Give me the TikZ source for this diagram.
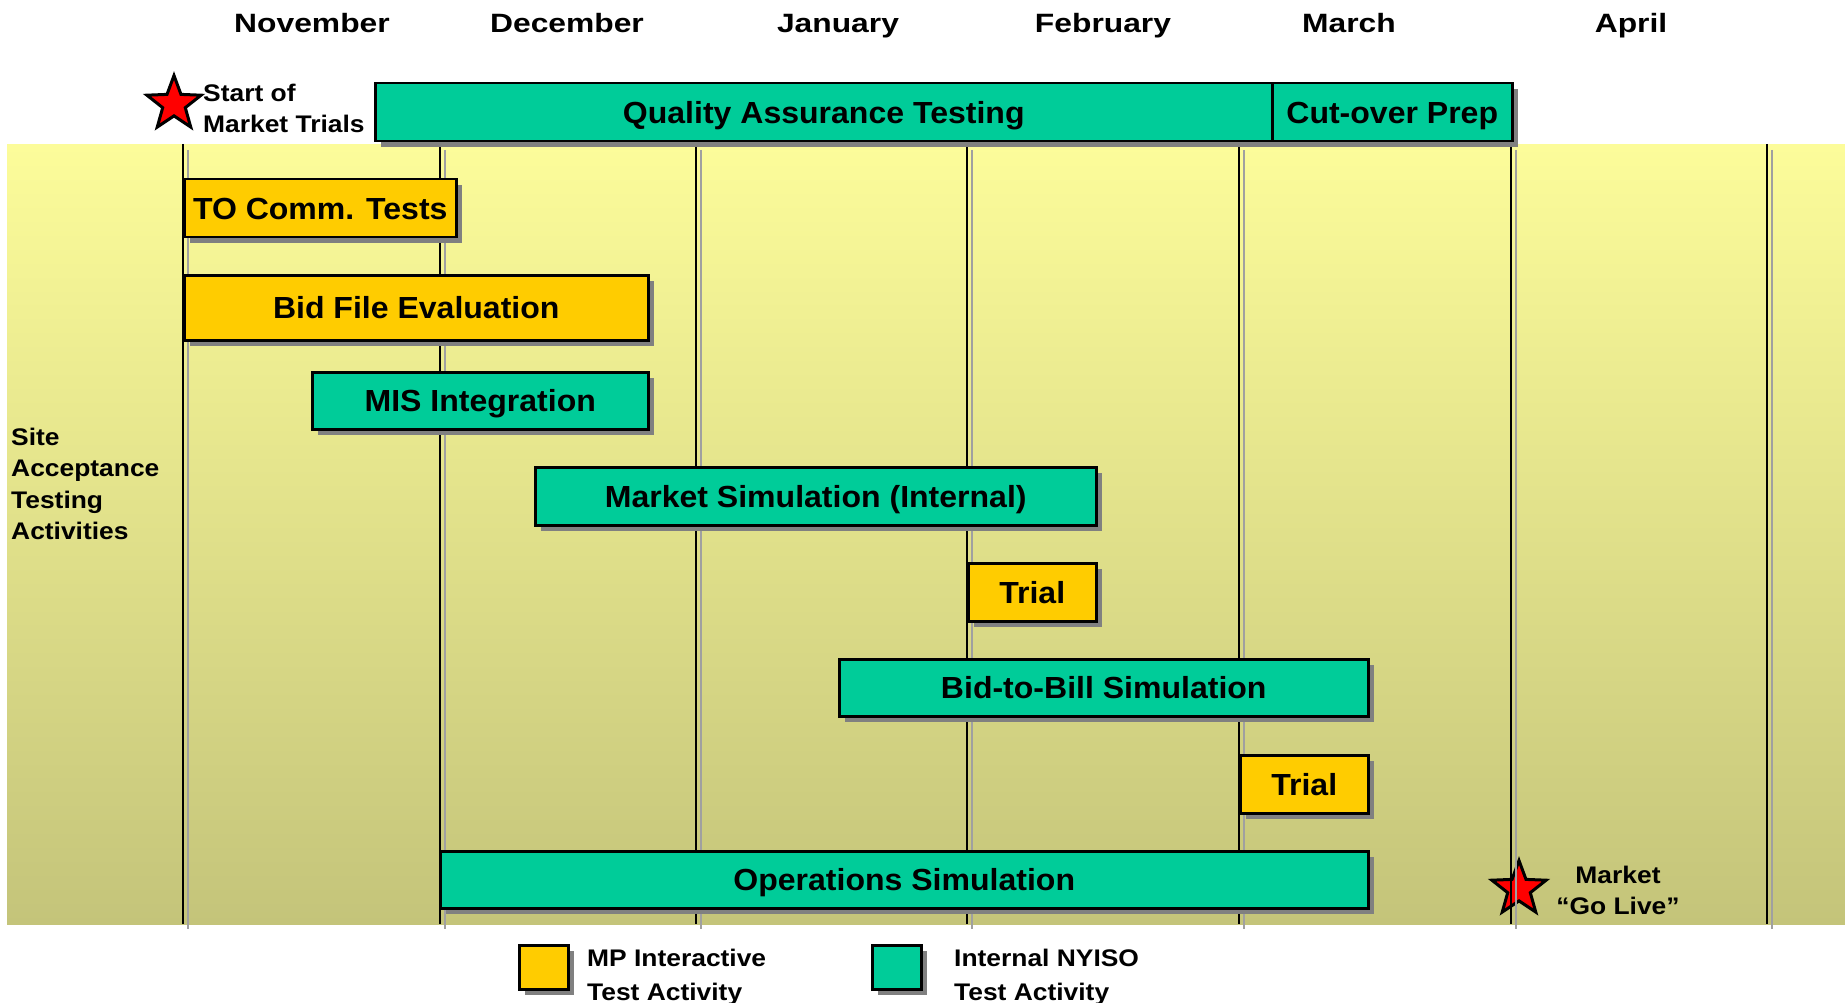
\documentclass[tikz,border=0pt]{standalone}
\usepackage{fontspec}
\setmainfont{Liberation Sans}[FakeStretch=1.1]
\newfontfamily\barfont{Liberation Sans}[FakeStretch=1.05]
\newfontfamily\monthfont{Liberation Sans}[FakeStretch=1.2]
\usetikzlibrary{shapes.geometric,shadows}
\definecolor{mpyellow}{HTML}{FFCC00}
\definecolor{nyisoteal}{HTML}{00CC99}
\definecolor{shadowgray}{HTML}{808080}
\definecolor{linegray}{HTML}{A0A0A0}
\definecolor{bandtop}{HTML}{FCFC9A}
\definecolor{bandbottom}{HTML}{C4C47A}
\begin{document}
\begin{tikzpicture}[x=1pt,y=-1pt]
\tikzstyle{every node}+=[inner sep=0pt]
\tikzstyle{boxshadow}=[drop shadow={shadow xshift=6pt, shadow yshift=-6pt, fill=shadowgray, opacity=1}]
\tikzstyle{taskbar}=[draw=black, line width=2.5pt, anchor=north west, text height=22pt, text depth=0pt, font=\barfont\bfseries\fontsize{30.5}{35}\selectfont, boxshadow]
\tikzstyle{mpbar}=[taskbar, fill=mpyellow]
\tikzstyle{nyisobar}=[taskbar, fill=nyisoteal]
\tikzstyle{keybox}=[draw=black, line width=2.5pt, anchor=north west, minimum width=49pt, minimum height=44pt, boxshadow]
\tikzstyle{month}=[anchor=base, font=\monthfont\bfseries\fontsize{26.5}{30}\selectfont]
\tikzstyle{note}=[align=left, anchor=base west, font=\bfseries\fontsize{24}{31}\selectfont]
\tikzstyle{milestone}=[star, star points=5, star point ratio=2.4, minimum size=57pt, fill=red, draw=black, line width=3pt]
\useasboundingbox (0,0) rectangle (1845,1003);
\shade [top color=bandtop, bottom color=bandbottom] (7,145) rectangle (1845,924);
\node (golivestar) [milestone] at (1519,889) {};
\draw [linegray, line width=1.6pt] (188,150) -- (188,929);
\draw [black, line width=2pt] (183,144) -- (183,924);
\draw [linegray, line width=1.6pt] (445,150) -- (445,929);
\draw [black, line width=2pt] (440,144) -- (440,924);
\draw [linegray, line width=1.6pt] (701,150) -- (701,929);
\draw [black, line width=2pt] (696,144) -- (696,924);
\draw [linegray, line width=1.6pt] (972,150) -- (972,929);
\draw [black, line width=2pt] (967,144) -- (967,924);
\draw [linegray, line width=1.6pt] (1244,150) -- (1244,929);
\draw [black, line width=2pt] (1239,144) -- (1239,924);
\draw [linegray, line width=1.6pt] (1516,150) -- (1516,929);
\draw [black, line width=2pt] (1511,144) -- (1511,924);
\draw [linegray, line width=1.6pt] (1772,150) -- (1772,929);
\draw [black, line width=2pt] (1767,144) -- (1767,924);
\node (nov) [month] at (312,33) {November};
\node (dec) [month] at (567,33) {December};
\node (jan) [month] at (838,33) {January};
\node (feb) [month] at (1103,33) {February};
\node (mar) [month] at (1349,33) {March};
\node (apr) [month] at (1631,33) {April};
\node (trialstar) [milestone] at (174,104) {};
\node (trialnote) [note] at (203,133) {Start of\\Market Trials};
\node (qa) [nyisobar, minimum width=897pt, minimum height=58pt] at (374,82) {Quality Assurance Testing};
\node (cutover) [nyisobar, minimum width=240pt, minimum height=58pt] at (1271,82) {Cut-over Prep};
\node (tocomm) [mpbar, minimum width=272pt, minimum height=58pt] at (183,178) {TO Comm. Tests};
\node (bidfile) [mpbar, minimum width=464pt, minimum height=65pt] at (183,274) {Bid File Evaluation};
\node (mis) [nyisobar, minimum width=336pt, minimum height=57pt] at (311,371) {MIS Integration};
\node (marketsim) [nyisobar, minimum width=561pt, minimum height=58pt] at (534,466) {Market Simulation (Internal)};
\node (trialone) [mpbar, minimum width=128pt, minimum height=58pt] at (967,562) {Trial};
\node (bidtobill) [nyisobar, minimum width=529pt, minimum height=57pt] at (838,658) {Bid-to-Bill Simulation};
\node (trialtwo) [mpbar, minimum width=128pt, minimum height=58pt] at (1239,754) {Trial};
\node (opsim) [nyisobar, minimum width=928pt, minimum height=57pt] at (439,850) {Operations Simulation};
\node (sitenote) [note, font=\bfseries\fontsize{24}{31.5}\selectfont] at (11,539.5) {Site\\Acceptance\\Testing\\Activities};
\node (golivenote) [note, align=center, anchor=base] at (1618,914) {Market\\“Go Live”};
\node (mpkey) [keybox, fill=mpyellow] at (518,944) {};
\node (mpkeytext) [note, font=\bfseries\fontsize{24}{34}\selectfont] at (587,1000.5) {MP Interactive\\Test Activity};
\node (nyisokey) [keybox, fill=nyisoteal] at (871,944) {};
\node (nyisokeytext) [note, font=\bfseries\fontsize{24}{34}\selectfont] at (954,1000.5) {Internal NYISO\\Test Activity};
\end{tikzpicture}
\end{document}
